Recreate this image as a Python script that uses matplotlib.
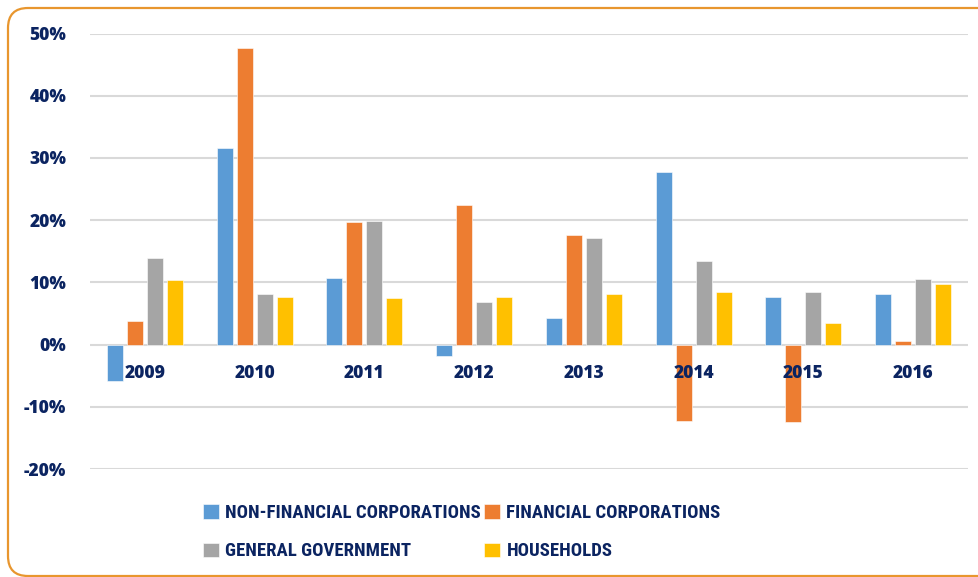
import matplotlib
matplotlib.use("Agg")
import matplotlib.pyplot as plt
from matplotlib.patches import FancyBboxPatch
from matplotlib import font_manager
import numpy as np

years = ["2009", "2010", "2011", "2012", "2013", "2014", "2015", "2016"]
series_names = ["NON-FINANCIAL CORPORATIONS", "FINANCIAL CORPORATIONS",
                "GENERAL GOVERNMENT", "HOUSEHOLDS"]
non_financial = [-5.9, 31.6, 10.7, -1.9, 4.3, 27.8, 7.7, 8.2]
financial = [3.8, 47.6, 19.7, 22.4, 17.6, -12.3, -12.5, 0.6]
general_gov = [13.9, 8.2, 19.9, 6.8, 17.2, 13.5, 8.5, 10.5]
households = [10.3, 7.7, 7.5, 7.7, 8.2, 8.5, 3.5, 9.7]
colors = ["#5B9BD5", "#ED7D31", "#A5A5A5", "#FFC000"]
y_ticks = [-20, -10, 0, 10, 20, 30, 40, 50]

navy = "#0B2461"
avail = {f.name for f in font_manager.fontManager.ttflist}
tick_font = [f for f in ["Open Sans", "Roboto"] if f in avail] + ["DejaVu Sans"]
legend_font = ["Liberation Sans Narrow", "Roboto Condensed", "Open Sans", "DejaVu Sans"]
legend_font = [f for f in legend_font if f in avail] + ["DejaVu Sans"]

fig = plt.figure(figsize=(9.79, 5.77), dpi=100)
ax = fig.add_axes([90/979, 1-469/577, 878/979, (469-33.5)/577])

x = np.arange(len(years))
step = 0.182
width = 0.146
all_series = [non_financial, financial, general_gov, households]
bars = []
for i, (vals, c, name) in enumerate(zip(all_series, colors, series_names)):
    b = ax.bar(x + (i - 1.5) * step, vals, width, color=c, label=name,
               edgecolor="white", linewidth=0.4, zorder=3)
    bars.append(b)

ax.set_xlim(-0.5, len(years) - 0.5)
ax.set_ylim(-20, 50)
ax.set_yticks(y_ticks)
ax.set_yticklabels([f"{v}%" for v in y_ticks], fontfamily=tick_font,
                   fontweight="heavy", fontsize=12.5, color=navy)
ax.tick_params(axis="y", length=0, pad=17)
ax.set_xticks([])
ax.grid(axis="y", color="#D9D9D9", linewidth=1.5, zorder=0)
for s in ax.spines.values():
    s.set_visible(False)

for xi, yr in zip(x, years):
    ax.text(xi, -4.6, yr, ha="center", va="center", fontfamily=tick_font,
            fontweight="heavy", fontsize=12.5, color=navy, zorder=5)

order = [0, 2, 1, 3]
leg = fig.legend([bars[i] for i in order], [series_names[i] for i in order],
                 ncol=2, loc="upper left", bbox_to_anchor=(186/979, 1-487/577),
                 frameon=False, handlelength=0.85, handleheight=0.85,
                 handletextpad=0.35, columnspacing=0.15, labelspacing=1.1,
                 prop={"family": legend_font, "weight": "bold", "size": 13.5})
for t in leg.get_texts():
    t.set_color(navy)

border = FancyBboxPatch((8, 1), 1000, 568, boxstyle="round,pad=0,rounding_size=20",
                        transform=None, facecolor="none", edgecolor="#E8962E",
                        linewidth=1.6, zorder=10)
fig.patches.append(border)

fig.savefig("out.png", dpi=100)
